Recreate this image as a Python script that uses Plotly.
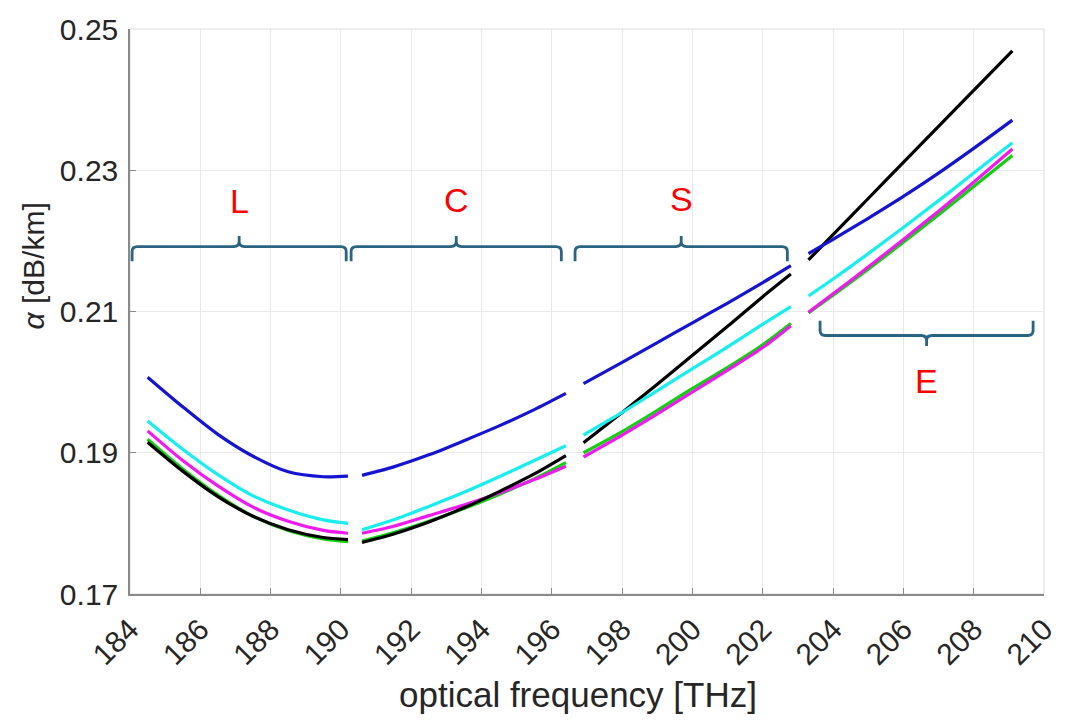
import plotly.graph_objects as go

# ---------------- data ----------------
band_names = ["L", "C", "S", "E"]

x_L = [184.5, 185.5, 186.5, 187.5, 188.5, 189.5, 190.2]
x_C = [190.6, 191.5, 192.5, 193.5, 194.5, 195.5, 196.4]
x_S = [196.9, 198.0, 199.0, 200.0, 201.0, 202.0, 202.8]
x_E = [203.3, 204.0, 205.0, 206.0, 207.0, 208.0, 209.1]

blue_L = [0.2007, 0.1965, 0.1926, 0.1895, 0.1873, 0.1866, 0.1867]
blue_C = [0.1868, 0.1880, 0.1897, 0.1917, 0.1938, 0.1961, 0.1984]
blue_S = [0.1998, 0.2028, 0.2056, 0.2084, 0.2112, 0.2141, 0.2165]
blue_E = [0.2182, 0.2202, 0.2232, 0.2263, 0.2296, 0.2331, 0.2371]

cyan_L = [0.1945, 0.1905, 0.1869, 0.1839, 0.1819, 0.1805, 0.1800]
cyan_C = [0.1791, 0.1805, 0.1824, 0.1844, 0.1866, 0.1889, 0.1910]
cyan_S = [0.1925, 0.1957, 0.1988, 0.2019, 0.2050, 0.2082, 0.2107]
cyan_E = [0.2122, 0.2146, 0.2182, 0.2219, 0.2257, 0.2296, 0.2339]

magenta_L = [0.1931, 0.1889, 0.1853, 0.1823, 0.1803, 0.1790, 0.1786]
magenta_C = [0.1786, 0.1796, 0.1811, 0.1826, 0.1843, 0.1862, 0.1881]
magenta_S = [0.1894, 0.1925, 0.1955, 0.1986, 0.2017, 0.2049, 0.2080]
magenta_E = [0.2099, 0.2125, 0.2163, 0.2202, 0.2242, 0.2283, 0.2330]

green_L = [0.1919, 0.1877, 0.1840, 0.1810, 0.1790, 0.1778, 0.1774]
green_C = [0.1775, 0.1787, 0.1803, 0.1821, 0.1841, 0.1863, 0.1886]
green_S = [0.1900, 0.1930, 0.1960, 0.1991, 0.2021, 0.2053, 0.2083]
green_E = [0.2098, 0.2123, 0.2160, 0.2198, 0.2237, 0.2277, 0.2321]

black_L = [0.1915, 0.1874, 0.1838, 0.1810, 0.1791, 0.1780, 0.1777]
black_C = [0.1773, 0.1785, 0.1802, 0.1822, 0.1845, 0.1870, 0.1896]
black_S = [0.1914, 0.1957, 0.1997, 0.2038, 0.2079, 0.2121, 0.2153]
black_E = [0.2173, 0.2209, 0.2260, 0.2311, 0.2362, 0.2413, 0.2469]

# band braces: start, end, level, orientation, label height
brace_x0 = [184.06, 190.29, 196.66, 203.63]
brace_x1 = [190.15, 196.27, 202.70, 209.69]
brace_y = [0.2192, 0.2192, 0.2192, 0.2066]
brace_dir = [1, 1, 1, -1]          # 1 = pip up, -1 = pip down
label_y = [0.2256, 0.2258, 0.2260, 0.2002]

x_ticks = list(range(184, 211, 2))
y_ticks = [0.17, 0.19, 0.21, 0.23, 0.25]
y_tick_text = ["0.17", "0.19", "0.21", "0.23", "0.25"]

# ---------------- figure ----------------
FONT = "Liberation Sans, Arial, sans-serif"
fig = go.Figure()

series = [
    ("green", "#10d010", [green_L, green_C, green_S, green_E]),
    ("magenta", "#ee1aee", [magenta_L, magenta_C, magenta_S, magenta_E]),
    ("black", "#000000", [black_L, black_C, black_S, black_E]),
    ("cyan", "#19eeee", [cyan_L, cyan_C, cyan_S, cyan_E]),
    ("blue", "#1414d2", [blue_L, blue_C, blue_S, blue_E]),
]
xs = [x_L, x_C, x_S, x_E]
for name, col, bands in series:
    for bx, by in zip(xs, bands):
        fig.add_trace(go.Scatter(
            x=bx, y=by, mode="lines", name=name, showlegend=False,
            line=dict(color=col, width=3.2, shape="spline", smoothing=0.8),
            hoverinfo="skip"))

# braces
BR_COL = "#2a6482"
tip = 0.0021
pip = 0.0015
rx = 0.15
ry = 0.0007
for x0, x1, yh, d, nm, ly in zip(brace_x0, brace_x1, brace_y, brace_dir, band_names, label_y):
    xc = (x0 + x1) / 2
    path = (
        f"M {x0},{yh - d*tip} L {x0},{yh - d*ry} Q {x0},{yh} {x0 + rx},{yh} "
        f"L {xc - rx},{yh} Q {xc},{yh} {xc},{yh + d*ry} L {xc},{yh + d*pip} "
        f"M {xc},{yh + d*ry} Q {xc},{yh} {xc + rx},{yh} "
        f"L {x1 - rx},{yh} Q {x1},{yh} {x1},{yh - d*ry} L {x1},{yh - d*tip}"
    )
    fig.add_shape(type="path", path=path, xref="x", yref="y",
                  line=dict(color=BR_COL, width=2.8))
    fig.add_annotation(x=xc, y=ly, xref="x", yref="y", text=nm, showarrow=False,
                       xanchor="center", yanchor="middle",
                       font=dict(family=FONT, size=34, color="#ff0000"))

# light box (top/right)
fig.add_shape(type="rect", xref="paper", yref="paper", x0=0, x1=1, y0=0, y1=1,
              line=dict(color="#dcdcdc", width=1), layer="below")

# axis titles
fig.add_annotation(xref="paper", yref="paper", x=0.49, y=-0.178,
                   xanchor="center", yanchor="middle",
                   text="optical frequency [THz]", showarrow=False,
                   font=dict(family=FONT, size=35, color="#262626"))
fig.add_annotation(xref="paper", yref="paper", x=-0.106, y=0.58,
                   xanchor="center", yanchor="middle",
                   text="<i>α</i> [dB/km]", showarrow=False, textangle=-90,
                   font=dict(family=FONT, size=30, color="#262626"))

fig.update_xaxes(range=[184, 210], tickmode="array", tickvals=x_ticks,
                 ticktext=[str(v) for v in x_ticks], tickangle=-45,
                 showgrid=True, gridcolor="#e9e9e9", gridwidth=1,
                 showline=True, linecolor="#8a8a8a", linewidth=1.5,
                 ticks="inside", ticklen=6, tickcolor="#8a8a8a",
                 ticklabelstandoff=4,
                 tickfont=dict(family=FONT, size=30, color="#262626"),
                 zeroline=False)
fig.update_yaxes(range=[0.17, 0.25], tickmode="array", tickvals=y_ticks,
                 ticktext=y_tick_text,
                 showgrid=True, gridcolor="#e9e9e9", gridwidth=1,
                 showline=True, linecolor="#8a8a8a", linewidth=1.5,
                 ticks="inside", ticklen=6, tickcolor="#8a8a8a",
                 ticklabelstandoff=4,
                 tickfont=dict(family=FONT, size=30, color="#262626"),
                 zeroline=False)

fig.update_layout(width=1071, height=722,
                  margin=dict(l=130, r=23, t=24, b=128),
                  plot_bgcolor="white", paper_bgcolor="white",
                  showlegend=False)

fig.write_html("out.html")
